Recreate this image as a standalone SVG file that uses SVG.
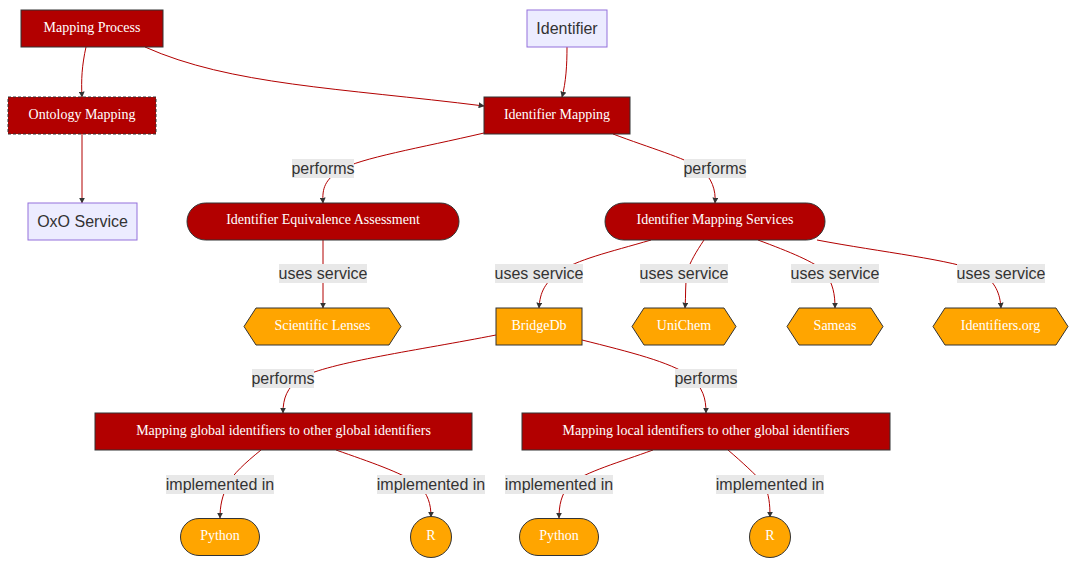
<svg xmlns="http://www.w3.org/2000/svg" width="1084" height="566" viewBox="0 0 1084 566">
<defs>
<marker id="arr" viewBox="0 0 10 10" refX="9" refY="5" markerWidth="6" markerHeight="6" orient="auto" markerUnits="userSpaceOnUse">
<path d="M0,0 L10,5 L0,10 z" fill="#333"/>
</marker>
<style>
.red{fill:#b20000;stroke:#333;stroke-width:1}
.lav{fill:#ECECFF;stroke:#9370DB;stroke-width:1}
.org{fill:#FFA500;stroke:#333;stroke-width:1}
.nt{font-family:"Liberation Serif",serif;font-size:14px;fill:#fff;text-anchor:middle;dominant-baseline:central}
.lt{font-family:"Liberation Sans",Arial,sans-serif;font-size:16px;fill:#333;text-anchor:middle;dominant-baseline:central}
.e{fill:none;stroke:#b20000;stroke-width:1;marker-end:url(#arr)}
.lb{fill:#e8e8e8}
.el{font-family:"Liberation Sans",Arial,sans-serif;font-size:16px;fill:#333;text-anchor:middle;dominant-baseline:central}
</style>
</defs>
<rect width="1084" height="566" fill="#fff"/>
<g id="connectors">
<path class="e" d="M86,47 C82,65 81,80 82,97"/>
<path class="e" d="M145,47 C230,85 340,88 484,106"/>
<path class="e" d="M567,47 C567,65 566,82 562,97"/>
<path class="e" d="M82,134 L82,203"/>
<path class="e" d="M484,133 C420,148 360,158 340,170 C325,180 322,188 323,203"/>
<path class="e" d="M613,134 C650,148 685,158 700,168 C712,178 716,190 715,203"/>
<path class="e" d="M323,240 L323,308"/>
<path class="e" d="M651,240 C610,252 575,260 560,272 C545,282 540,292 539,308"/>
<path class="e" d="M704,240 C696,252 690,262 687,272 C685,285 686,295 685,308"/>
<path class="e" d="M758,240 C790,252 815,262 825,272 C833,284 835,294 835,308"/>
<path class="e" d="M817,240 C880,252 955,260 980,272 C996,282 1000,294 1001,308"/>
<path class="e" d="M496,335 C420,350 330,362 300,378 C287,388 283,398 283,413"/>
<path class="e" d="M582,340 C630,352 670,362 690,376 C703,388 706,398 706,413"/>
<path class="e" d="M261,450 C245,463 233,474 228,484 C222,496 220,506 220,518"/>
<path class="e" d="M336,450 C370,462 400,472 418,484 C428,494 431,504 431,517"/>
<path class="e" d="M653,450 C620,462 585,472 570,484 C561,494 559,506 559,518"/>
<path class="e" d="M728,450 C742,462 755,474 764,484 C769,494 770,504 770,517"/>
</g>
<g id="edge-labels">
<rect class="lb" x="292" y="159" width="62" height="19"/><text class="el" x="323" y="168.5">performs</text>
<rect class="lb" x="684" y="159" width="62" height="19"/><text class="el" x="715" y="168.5">performs</text>
<rect class="lb" x="279" y="264" width="88" height="19"/><text class="el" x="323" y="273.5">uses service</text>
<rect class="lb" x="495" y="264" width="88" height="19"/><text class="el" x="539" y="273.5">uses service</text>
<rect class="lb" x="640" y="264" width="88" height="19"/><text class="el" x="684" y="273.5">uses service</text>
<rect class="lb" x="791" y="264" width="88" height="19"/><text class="el" x="835" y="273.5">uses service</text>
<rect class="lb" x="957" y="264" width="88" height="19"/><text class="el" x="1001" y="273.5">uses service</text>
<rect class="lb" x="252" y="369" width="62" height="19"/><text class="el" x="283" y="378.5">performs</text>
<rect class="lb" x="675" y="369" width="62" height="19"/><text class="el" x="706" y="378.5">performs</text>
<rect class="lb" x="166" y="475" width="108" height="19"/><text class="el" x="220" y="484.5">implemented in</text>
<rect class="lb" x="377" y="475" width="108" height="19"/><text class="el" x="431" y="484.5">implemented in</text>
<rect class="lb" x="505" y="475" width="108" height="19"/><text class="el" x="559" y="484.5">implemented in</text>
<rect class="lb" x="716" y="475" width="108" height="19"/><text class="el" x="770" y="484.5">implemented in</text>
</g>
<g id="mapping-process"><rect class="red" x="21" y="10" width="142" height="37"/><text class="nt" x="92" y="27">Mapping Process</text></g>
<g id="identifier"><rect class="lav" x="527" y="10" width="80" height="37"/><text class="lt" x="567" y="28.5">Identifier</text></g>
<g id="ontology-mapping"><rect class="red" x="8" y="97" width="148" height="37" stroke-dasharray="3 2"/><text class="nt" x="82" y="114">Ontology Mapping</text></g>
<g id="identifier-mapping"><rect class="red" x="484" y="97" width="146" height="37"/><text class="nt" x="557" y="114">Identifier Mapping</text></g>
<g id="oxo-service"><rect class="lav" x="28" y="203" width="109" height="37"/><text class="lt" x="82.5" y="221">OxO Service</text></g>
<g id="identifier-equivalence-assessment"><rect class="red" x="187" y="203" width="272" height="37" rx="18.5" ry="18.5"/><text class="nt" x="323" y="219.5">Identifier Equivalence Assessment</text></g>
<g id="identifier-mapping-services"><rect class="red" x="605" y="203" width="220" height="37" rx="18.5" ry="18.5"/><text class="nt" x="715" y="219.5">Identifier Mapping Services</text></g>
<g id="scientific-lenses"><polygon class="org" points="256,308 389,308 401,326.5 389,345 256,345 244,326.5"/><text class="nt" x="322.5" y="325">Scientific Lenses</text></g>
<g id="bridgedb"><rect class="org" x="496" y="308" width="86" height="37"/><text class="nt" x="539" y="325">BridgeDb</text></g>
<g id="unichem"><polygon class="org" points="644,308 724,308 736,326.5 724,345 644,345 632,326.5"/><text class="nt" x="684" y="325">UniChem</text></g>
<g id="sameas"><polygon class="org" points="799,308 871,308 883,326.5 871,345 799,345 787,326.5"/><text class="nt" x="835" y="325">Sameas</text></g>
<g id="identifiers-org"><polygon class="org" points="945,308 1056,308 1068,326.5 1056,345 945,345 933,326.5"/><text class="nt" x="1000.5" y="325">Identifiers.org</text></g>
<g id="mapping-global"><rect class="red" x="95" y="413" width="377" height="37"/><text class="nt" x="283.5" y="430">Mapping global identifiers to other global identifiers</text></g>
<g id="mapping-local"><rect class="red" x="522" y="413" width="368" height="37"/><text class="nt" x="706" y="430">Mapping local identifiers to other global identifiers</text></g>
<g id="python-1"><rect class="org" x="180.5" y="518.5" width="79" height="37" rx="18.5" ry="18.5"/><text class="nt" x="220" y="535.5">Python</text></g>
<g id="r-1"><circle class="org" cx="431" cy="537" r="20.5"/><text class="nt" x="431" y="535.5">R</text></g>
<g id="python-2"><rect class="org" x="519.5" y="518.5" width="79" height="37" rx="18.5" ry="18.5"/><text class="nt" x="559" y="535.5">Python</text></g>
<g id="r-2"><circle class="org" cx="770" cy="537" r="20.5"/><text class="nt" x="770" y="535.5">R</text></g>
</svg>
